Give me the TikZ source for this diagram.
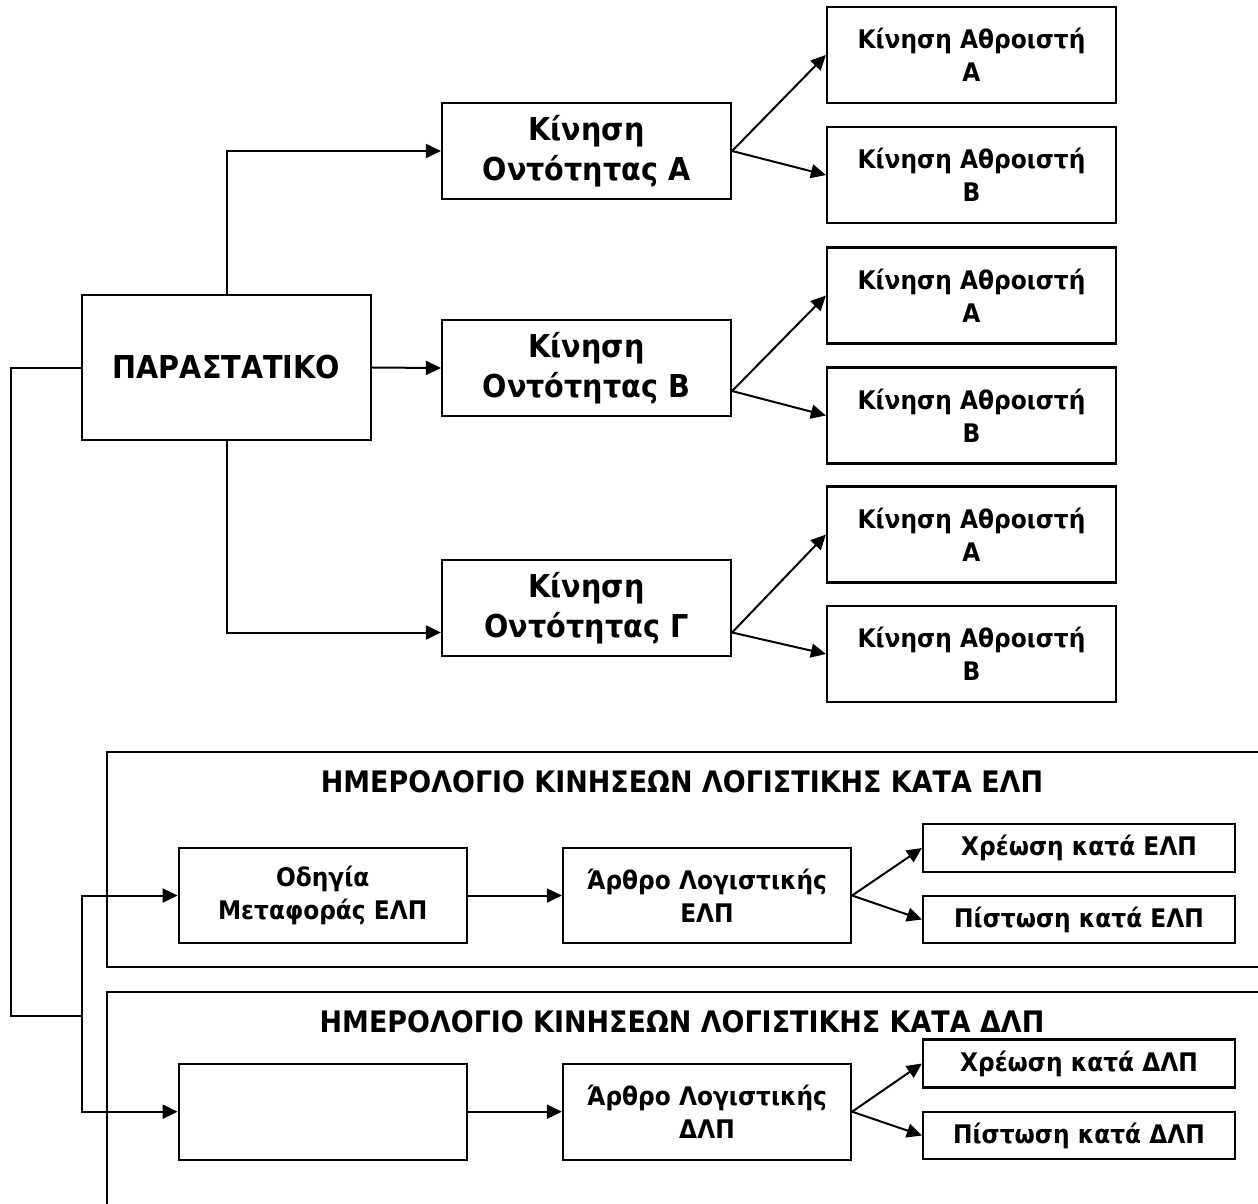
\documentclass[tikz,border=0pt]{standalone}
\usepackage{fontspec}
\setmainfont{DejaVu Sans}[FakeStretch=0.91]
\usetikzlibrary{arrows.meta}

\begin{document}
\begin{tikzpicture}[x=1pt,y=-1pt,
    box/.style={draw,line width=2.2pt,minimum width=289pt,minimum height=96pt,inner sep=0pt,align=center,font=\bfseries\fontsize{31.5}{40}\selectfont},
    smallbox/.style={box,font=\bfseries\fontsize{25.6}{33}\selectfont},
    flatbox/.style={smallbox,minimum width=312pt,minimum height=48pt},
    title/.style={font=\bfseries\fontsize{29.6}{38}\selectfont},
    link/.style={line width=2pt},
    arr/.style={link,-{Triangle[length=15pt,width=14pt]}}]
    \useasboundingbox (0,0) rectangle (1258,1203);

    % Define the document and the entity moves
    \node[box,minimum height=145pt] (doc) at (226.5,367.5) {ΠΑΡΑΣΤΑΤΙΚΟ};
    \node[box] (entA) at (586.5,151) {Κίνηση\\Οντότητας Α};
    \node[box] (entB) at (586.5,368) {Κίνηση\\Οντότητας Β};
    \node[box] (entC) at (586.5,608) {Κίνηση\\Οντότητας Γ};

    % Define the summary moves
    \node[smallbox] (sumAA) at (971.5,55) {Κίνηση Αθροιστή\\Α};
    \node[smallbox] (sumAB) at (971.5,175) {Κίνηση Αθροιστή\\Β};
    \node[smallbox] (sumBA) at (971.5,295.5) {Κίνηση Αθροιστή\\Α};
    \node[smallbox] (sumBB) at (971.5,415.5) {Κίνηση Αθροιστή\\Β};
    \node[smallbox] (sumCA) at (971.5,534.5) {Κίνηση Αθροιστή\\Α};
    \node[smallbox] (sumCB) at (971.5,654) {Κίνηση Αθροιστή\\Β};

    % Draw the two journal frames
    \draw[link] (1270,752) -- (107,752) -- (107,967) -- (1270,967);
    \draw[link] (1270,992) -- (107,992) -- (107,1215);
    \node[title] (jrnE) at (682,782) {ΗΜΕΡΟΛΟΓΙΟ ΚΙΝΗΣΕΩΝ ΛΟΓΙΣΤΙΚΗΣ ΚΑΤΑ ΕΛΠ};
    \node[title] (jrnD) at (682,1022) {ΗΜΕΡΟΛΟΓΙΟ ΚΙΝΗΣΕΩΝ ΛΟΓΙΣΤΙΚΗΣ ΚΑΤΑ ΔΛΠ};

    % Define the journal boxes
    \node[smallbox,minimum width=288pt,minimum height=95pt] (ord) at (322.7,895.5) {Οδηγία\\Μεταφοράς ΕΛΠ};
    \node[smallbox,minimum width=288pt,minimum height=95pt] (artE) at (707,895.5) {Άρθρο Λογιστικής\\ΕΛΠ};
    \node[flatbox] (debE) at (1079,848) {Χρέωση κατά ΕΛΠ};
    \node[flatbox,minimum height=47pt] (credE) at (1079,919.5) {Πίστωση κατά ΕΛΠ};
    \node[smallbox,minimum width=288pt] (blank) at (322.7,1111.7) {};
    \node[smallbox,minimum width=288pt] (artD) at (707,1111.7) {Άρθρο Λογιστικής\\ΔΛΠ};
    \node[flatbox] (debD) at (1079,1063.5) {Χρέωση κατά ΔΛΠ};
    \node[flatbox,minimum height=47pt] (credD) at (1079,1135.5) {Πίστωση κατά ΔΛΠ};

    % Draw the links
    \draw[arr] (doc.north) |- (entA);
    \draw[arr] (doc.east) -- (entB.west);
    \draw[arr] (doc.south) |- ([yshift=-24.5pt]entC.west);
    \draw[arr] (entA.east) -- (sumAA.west);
    \draw[arr] (entA.east) -- (sumAB.west);
    \draw[arr] ([yshift=-23pt]entB.east) -- (sumBA.west);
    \draw[arr] ([yshift=-23pt]entB.east) -- (sumBB.west);
    \draw[arr] ([yshift=-24.5pt]entC.east) -- (sumCA.west);
    \draw[arr] ([yshift=-24.5pt]entC.east) -- (sumCB.west);

    \coordinate (rail) at (11,1016);
    \coordinate (fork) at (82.3,1016);
    \draw[link] (doc.west) -| (rail) -- (fork);
    \draw[arr] (fork) |- (ord);
    \draw[arr] (fork) |- (blank);
    \draw[arr] (ord) -- (artE);
    \draw[arr] (blank) -- (artD);
    \draw[arr] (artE.east) -- (debE.west);
    \draw[arr] (artE.east) -- (credE.west);
    \draw[arr] (artD.east) -- (debD.west);
    \draw[arr] (artD.east) -- (credD.west);
\end{tikzpicture}
\end{document}
